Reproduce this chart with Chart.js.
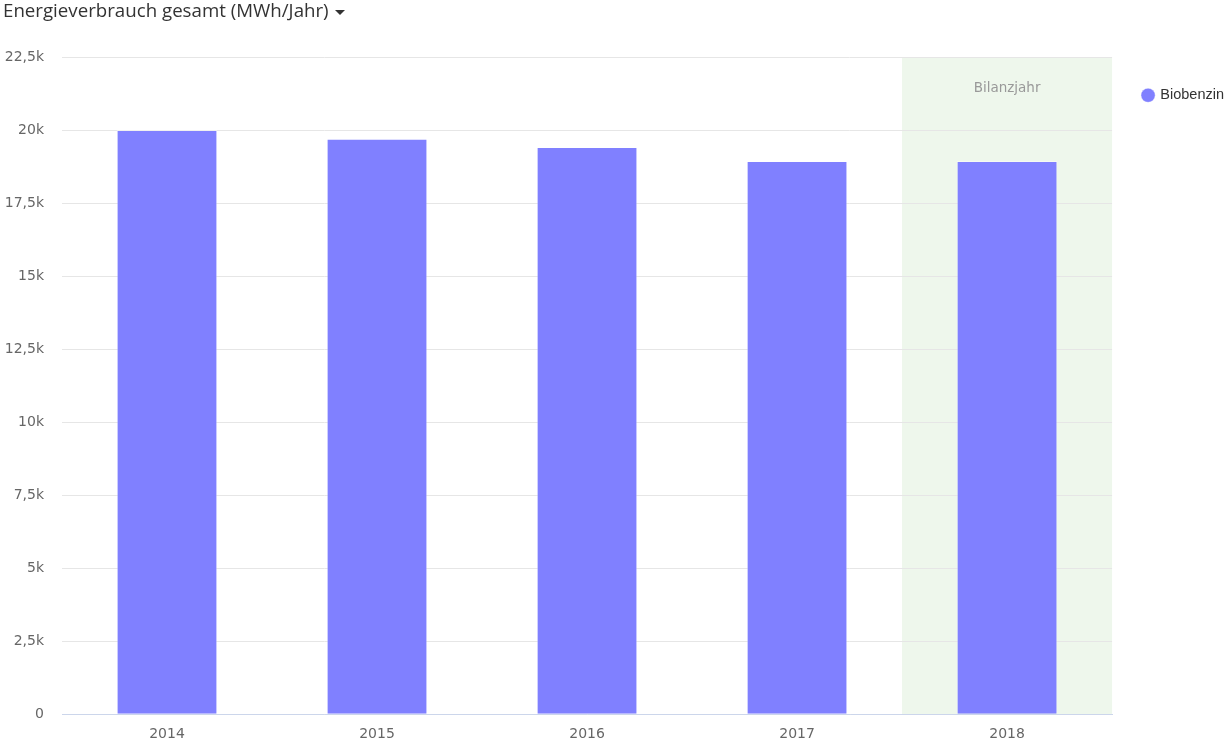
<!DOCTYPE html>
<html>
<head>
<meta charset="utf-8">
<script src="https://cdn.jsdelivr.net/npm/chart.js@4"></script>
<style>
  body { margin: 0; background: #fff; }
  #wrap { position: relative; width: 1227px; height: 744px; overflow: hidden; }
  #title { position: absolute; left: 3px; top: -3px; font-family: "Open Sans", sans-serif; font-size: 18.7px; color: #333; white-space: nowrap; }
  #caret { display: inline-block; width: 0; height: 0; border-left: 5px solid transparent; border-right: 5px solid transparent; border-top: 5px solid #333; margin-left: 6px; vertical-align: middle; }
  canvas { position: absolute; left: 0; top: 0; }
</style>
</head>
<body>
<div id="wrap">
  <canvas id="myChart" width="1227" height="755"></canvas>
  <div id="title">Energieverbrauch gesamt (MWh/Jahr)<span id="caret"></span></div>
</div>
<script>
var years = ['2014', '2015', '2016', '2017', '2018'];
var biobenzin = [20000, 19700, 19420, 18940, 18940];
var yTicks = [0, 2500, 5000, 7500, 10000, 12500, 15000, 17500, 20000, 22500];
var bilanzjahr = '2018';

function fmt(v) {
	if (v == 0) return '0';
	return (v / 1000).toString().replace('.', ',') + 'k';
}

// hellgrüner Hintergrund für das Bilanzjahr
var bandPlugin = {
	id: 'band',
	beforeDraw: function(chart) {
		var ctx = chart.ctx;
		var xs = chart.scales.x;
		var area = chart.chartArea;
		var idx = years.indexOf(bilanzjahr);
		var step = xs.getPixelForValue(1) - xs.getPixelForValue(0);
		var left = xs.getPixelForValue(idx) - step / 2;
		var right = xs.getPixelForValue(idx) + step / 2;
		ctx.save();
		ctx.fillStyle = '#eef7ec';
		ctx.fillRect(left, area.top, right - left, area.bottom - area.top);
		ctx.fillStyle = '#999';
		ctx.font = '13.5px "DejaVu Sans"';
		ctx.textAlign = 'center';
		ctx.textBaseline = 'middle';
		ctx.fillText('Bilanzjahr', (left + right) / 2, area.top + 31);
		ctx.restore();
	}
};

var ctx = document.getElementById('myChart').getContext('2d');
var chart = new Chart(ctx, {
	type: 'bar',
	data: {
		labels: years,
		datasets: [{
			label: 'Biobenzin',
			data: biobenzin,
			backgroundColor: '#8080ff',
			borderColor: 'rgba(255,255,255,0.4)',
			borderWidth: 1,
			categoryPercentage: 1,
			barPercentage: 0.48
		}]
	},
	plugins: [bandPlugin],
	options: {
		responsive: false,
		animation: false,
		layout: { padding: { top: 57, right: -7, left: 0, bottom: 0 } },
		plugins: {
			legend: {
				position: 'right',
				align: 'start',
				labels: {
					usePointStyle: true,
					pointStyle: 'circle',
					boxWidth: 10,
					boxHeight: 10,
					padding: 31,
					color: '#333',
					font: { family: '"Liberation Sans", Arial, sans-serif', size: 14.5 }
				}
			},
			tooltip: { enabled: false }
		},
		scales: {
			x: {
				grid: { display: false, drawTicks: false },
				border: { color: '#ccd6eb', width: 1 },
				ticks: { color: '#666', padding: 12, font: { family: '"DejaVu Sans"', size: 14 } }
			},
			y: {
				min: 0,
				max: 22500,
				afterBuildTicks: function(axis) {
					axis.ticks = yTicks.map(function(v) { return { value: v }; });
				},
				afterFit: function(axis) {
					axis.width = 62;
				},
				grid: { color: '#e6e6e6', drawTicks: false },
				border: { display: false },
				ticks: {
					color: '#666',
					padding: 18,
					font: { family: '"DejaVu Sans"', size: 14 },
					callback: function(v) { return fmt(v); }
				}
			}
		}
	}
});
</script>
</body>
</html>
